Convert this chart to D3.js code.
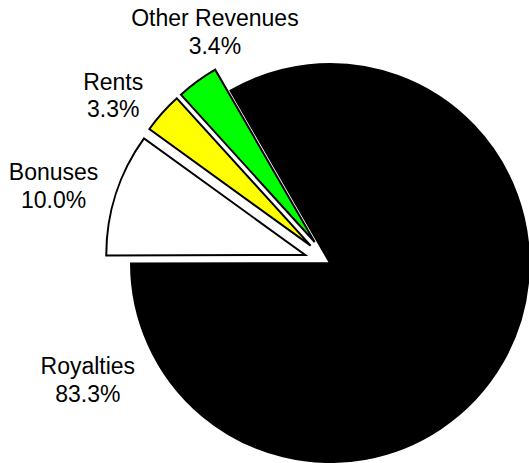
<!DOCTYPE html>
<html>
<head>
<meta charset="utf-8">
<script src="https://cdn.jsdelivr.net/npm/d3@7"></script>
<style>
  html, body { margin: 0; padding: 0; background: #fff; }
  svg { display: block; }
  text { font-family: Arial, "Liberation Sans", sans-serif; font-size: 23px; fill: #000; }
</style>
</head>
<body>
<script>
// Revenue sources and their shares (percent)
const categories = ["Royalties", "Bonuses", "Rents", "Other Revenues"];
const shares = [83.3, 10.0, 3.3, 3.4];
const colors = ["#000000", "#ffffff", "#ffff00", "#00ff00"];
// Slices pulled out from the centre (1 = exploded)
const exploded = [0, 1, 1, 1];

const width = 529, height = 463;
const cx = 330, cy = 263, radius = 199, explodeDist = 26;

// Label anchors: angle (deg, clockwise from top) and distance from the centre
const labelLayout = {
  "Royalties":      { angle: 244.2, dist: 269 },
  "Bonuses":        { angle: 285.6, dist: 287 },
  "Rents":          { angle: 307.7, dist: 274 },
  "Other Revenues": { angle: 333.5, dist: 258 }
};

const svg = d3.select("body").append("svg")
  .attr("width", width).attr("height", height);

const data = categories.map((c, i) => ({ name: c, value: shares[i], color: colors[i], out: exploded[i] }));

const pie = d3.pie()
  .value(d => d.value)
  .sort(null)
  .startAngle(-Math.PI / 6)
  .endAngle(-Math.PI / 6 + 2 * Math.PI);

const arc = d3.arc().innerRadius(0).outerRadius(radius);

const g = svg.append("g").attr("transform", `translate(${cx},${cy})`);

g.selectAll("path")
  .data(pie(data))
  .join("path")
  .attr("d", arc)
  .attr("fill", d => d.data.color)
  .attr("stroke", "#000")
  .attr("stroke-width", 2)
  .attr("stroke-linejoin", "miter")
  .attr("transform", d => {
    const mid = (d.startAngle + d.endAngle) / 2;
    const k = d.data.out ? explodeDist : 0;
    return `translate(${Math.sin(mid) * k},${-Math.cos(mid) * k})`;
  });

const fmt = d3.format(".1f");
const lineH = 27.5;

const labels = g.selectAll("text.label")
  .data(data)
  .join("text")
  .attr("class", "label")
  .attr("text-anchor", "middle")
  .attr("transform", d => {
    const L = labelLayout[d.name];
    const a = L.angle * Math.PI / 180;
    return `translate(${Math.sin(a) * L.dist},${-Math.cos(a) * L.dist})`;
  });

labels.append("tspan")
  .attr("x", 0).attr("y", -lineH / 2 + 8)
  .text(d => d.name);
labels.append("tspan")
  .attr("x", 0).attr("y", lineH / 2 + 8)
  .text(d => fmt(d.value) + "%");
</script>
</body>
</html>
